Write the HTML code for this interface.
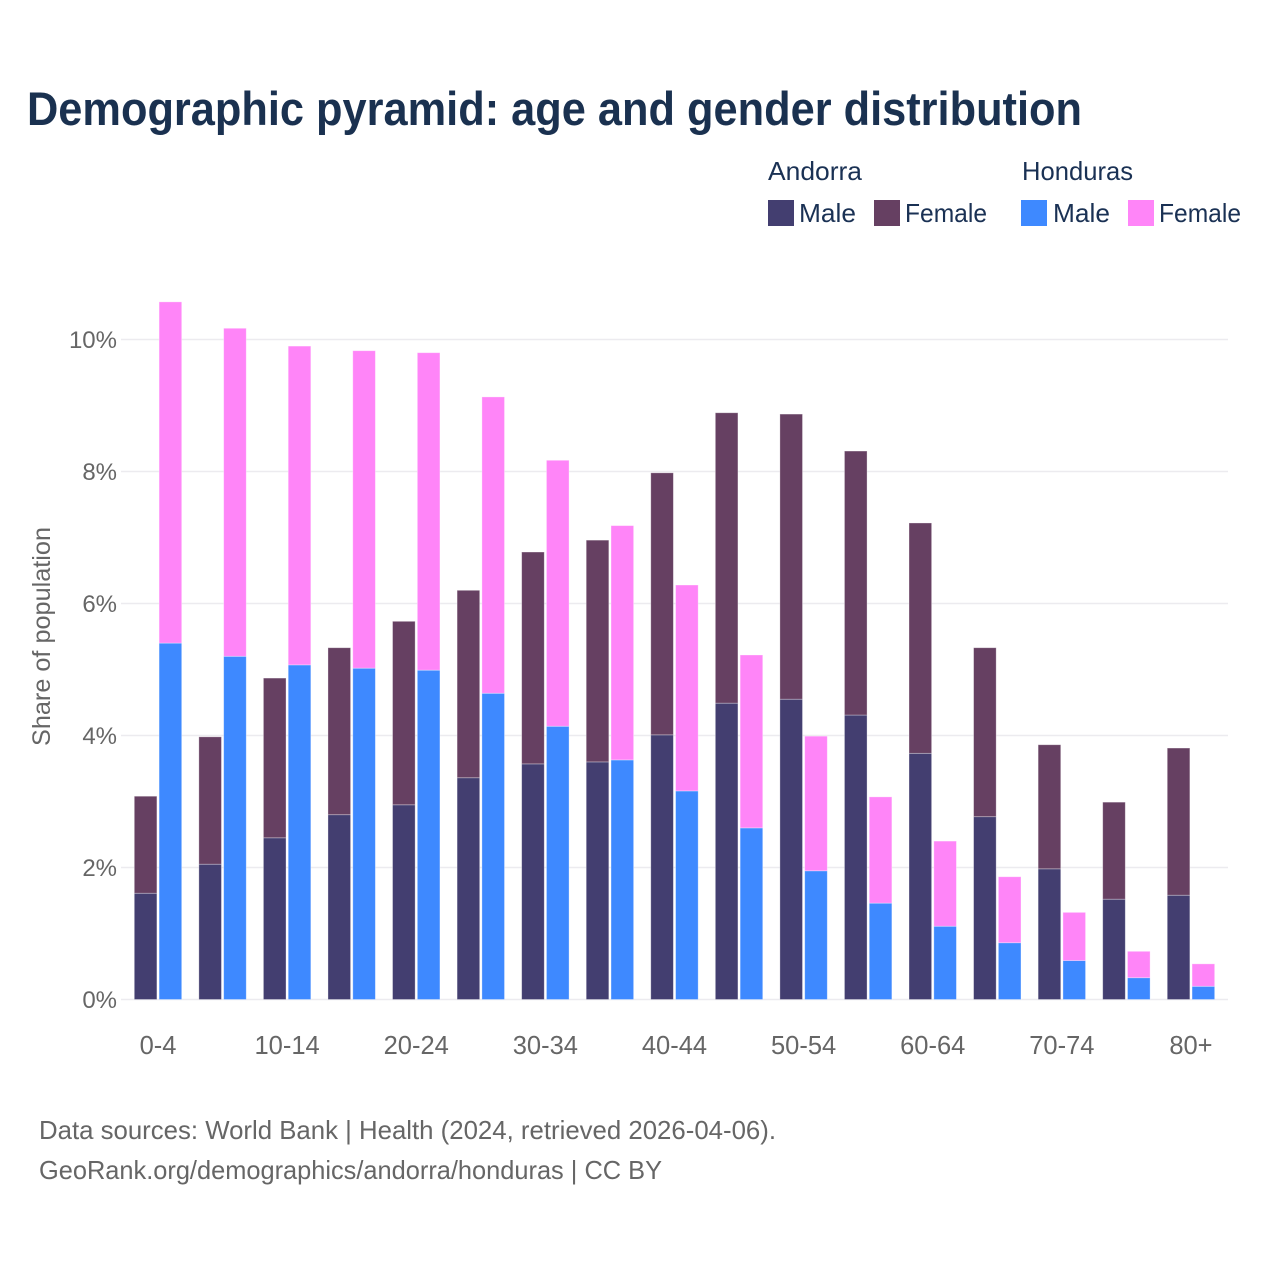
<!DOCTYPE html>
<html lang="en">
<head>
<meta charset="utf-8">
<title>Demographic pyramid</title>
<style>
html,body{margin:0;padding:0;background:#fff;}
svg{display:block;font-family:"Liberation Sans",sans-serif;}
</style>
</head>
<body>
<svg id="chart" xmlns="http://www.w3.org/2000/svg" width="1280" height="1280" viewBox="0 0 1280 1280">
  <rect width="1280" height="1280" fill="#fff"/>
  <text x="27" y="125" font-size="47" font-weight="700" fill="#1a3150" textLength="1055" lengthAdjust="spacingAndGlyphs">Demographic pyramid: age and gender distribution</text>

  <g font-size="26" fill="#1a3154">
    <text x="768" y="180" textLength="94" lengthAdjust="spacingAndGlyphs">Andorra</text>
    <text x="1022" y="180" textLength="111" lengthAdjust="spacingAndGlyphs">Honduras</text>
    <rect x="768" y="200" width="26" height="26" fill="#433e70"/>
    <text x="799" y="222" textLength="57" lengthAdjust="spacingAndGlyphs">Male</text>
    <rect x="874" y="200" width="26" height="26" fill="#664062"/>
    <text x="905" y="222" textLength="82" lengthAdjust="spacingAndGlyphs">Female</text>
    <rect x="1021" y="200" width="26" height="26" fill="#3e89ff"/>
    <text x="1053" y="222" textLength="57" lengthAdjust="spacingAndGlyphs">Male</text>
    <rect x="1128" y="200" width="26" height="26" fill="#ff85f8"/>
    <text x="1159" y="222" textLength="82" lengthAdjust="spacingAndGlyphs">Female</text>
  </g>

  <g id="grid"></g>
  <g id="bars"></g>
  <g id="yticks"></g>
  <g id="xticks"></g>

  <text transform="translate(50,636.5) rotate(-90)" text-anchor="middle" font-size="25" fill="#666" textLength="219" lengthAdjust="spacingAndGlyphs">Share of population</text>

  <text x="39" y="1139" font-size="26" fill="#666" textLength="737" lengthAdjust="spacingAndGlyphs">Data sources: World Bank | Health (2024, retrieved 2026-04-06).</text>
  <text x="39" y="1179" font-size="26" fill="#666" textLength="623" lengthAdjust="spacingAndGlyphs">GeoRank.org/demographics/andorra/honduras | CC BY</text>
</svg>
<script>
const ageGroups = ["0-4","5-9","10-14","15-19","20-24","25-29","30-34","35-39","40-44","45-49","50-54","55-59","60-64","65-69","70-74","75-79","80+"];
const andorraMale = [1.61,2.05,2.45,2.80,2.95,3.36,3.57,3.60,4.01,4.49,4.55,4.31,3.73,2.77,1.98,1.52,1.58];
const andorraFemale = [1.47,1.93,2.42,2.53,2.78,2.84,3.21,3.36,3.97,4.40,4.32,4.00,3.49,2.56,1.88,1.47,2.23];
const hondurasMale = [5.40,5.20,5.07,5.02,4.99,4.64,4.14,3.63,3.16,2.60,1.95,1.46,1.11,0.86,0.59,0.33,0.20];
const hondurasFemale = [5.17,4.97,4.83,4.81,4.81,4.49,4.03,3.55,3.12,2.62,2.04,1.61,1.29,1.00,0.73,0.40,0.34];
const yTickValues = [0,2,4,6,8,10];
const yTickLabels = ["0%","2%","4%","6%","8%","10%"];
const xTickLabels = ["0-4","10-14","20-24","30-34","40-44","50-54","60-64","70-74","80+"];

const NS = "http://www.w3.org/2000/svg";
const plotLeft = 121, plotRight = 1228, firstCenter = 158, bandStep = 64.56;
const zeroY = 999.5, pxPerUnit = 66;
const barWidth = 22.6, barOffset = 12.4;
function xScale(i){ return firstCenter + bandStep * i; }
function yScale(v){ return zeroY - pxPerUnit * v; }

const grid = document.getElementById("grid");
const yticks = document.getElementById("yticks");
yTickValues.forEach(function(v, i){
  const line = document.createElementNS(NS, "line");
  line.setAttribute("x1", plotLeft);
  line.setAttribute("x2", plotRight);
  line.setAttribute("y1", yScale(v));
  line.setAttribute("y2", yScale(v));
  line.setAttribute("stroke", "#ecebef");
  line.setAttribute("stroke-width", "1.4");
  
  
  grid.appendChild(line);

  const t = document.createElementNS(NS, "text");
  t.setAttribute("x", 117);
  t.setAttribute("y", yScale(v) + 8.5);
  t.setAttribute("text-anchor", "end");
  t.setAttribute("font-size", "24");
  t.setAttribute("fill", "#666");
  t.textContent = yTickLabels[i];
  
  
  yticks.appendChild(t);
});

const xticks = document.getElementById("xticks");
xTickLabels.forEach(function(label){
  const t = document.createElementNS(NS, "text");
  t.setAttribute("x", xScale(ageGroups.indexOf(label)));
  t.setAttribute("y", 1054);
  t.setAttribute("text-anchor", "middle");
  t.setAttribute("font-size", "25.5");
  t.setAttribute("fill", "#666");
  t.textContent = label;
  
  
  xticks.appendChild(t);
});

const bars = document.getElementById("bars");
function drawBar(cx, base, value, color){
  const r = document.createElementNS(NS, "rect");
  r.setAttribute("x", cx - barWidth / 2);
  r.setAttribute("width", barWidth);
  r.setAttribute("y", yScale(base + value));
  r.setAttribute("height", pxPerUnit * value);
  r.setAttribute("fill", color);
  r.setAttribute("stroke", "rgba(255,255,255,0.4)");
  r.setAttribute("stroke-width", "0.8");
  
  
  bars.appendChild(r);
}
ageGroups.forEach(function(_, i){
  const cx = xScale(i);
  drawBar(cx - barOffset, 0, andorraMale[i], "#433e70");
  drawBar(cx - barOffset, andorraMale[i], andorraFemale[i], "#664062");
  drawBar(cx + barOffset, 0, hondurasMale[i], "#3e89ff");
  drawBar(cx + barOffset, hondurasMale[i], hondurasFemale[i], "#ff85f8");
});
</script>
</body>
</html>
